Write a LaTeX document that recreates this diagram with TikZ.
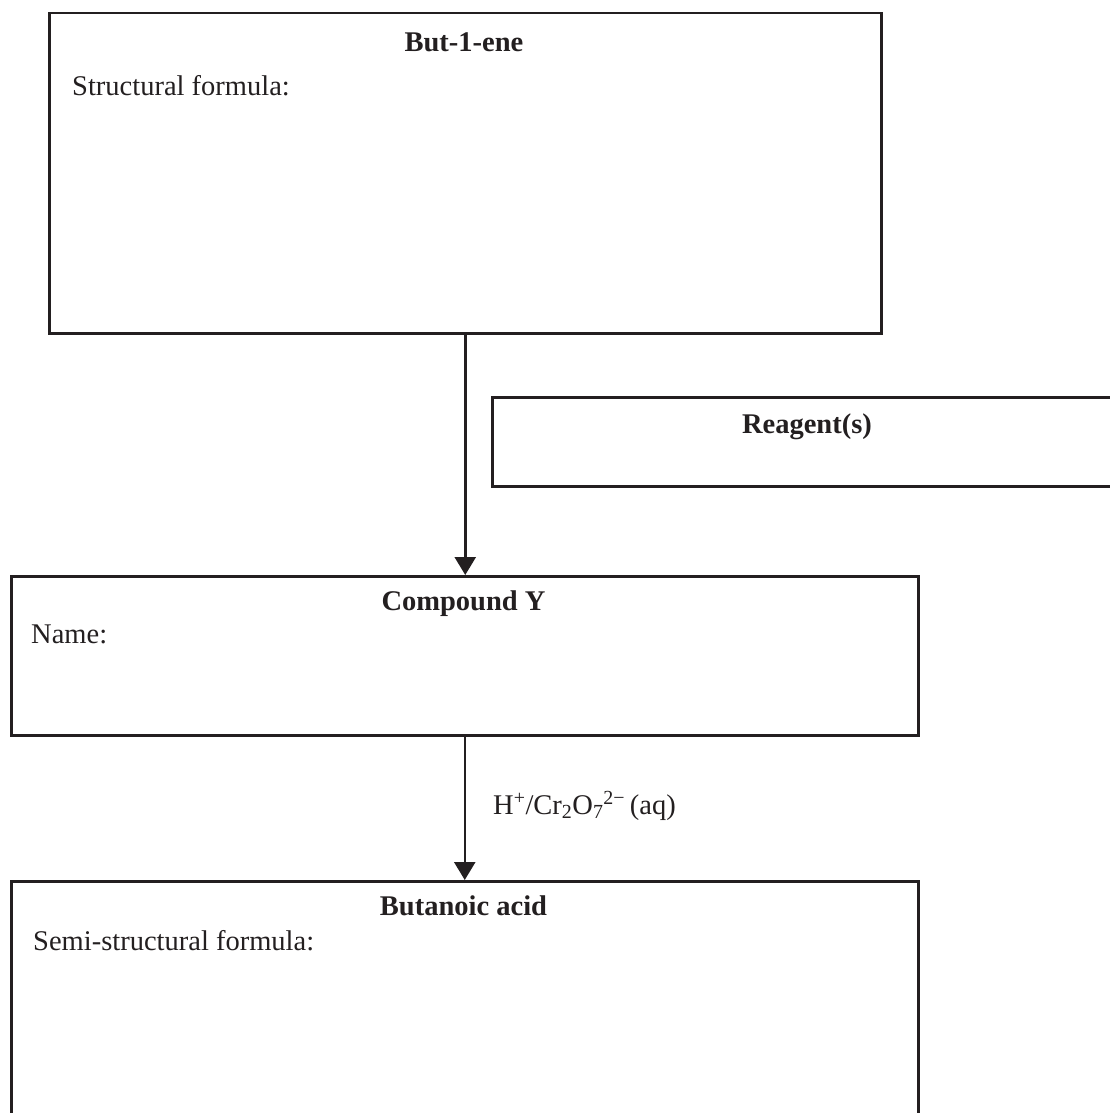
\documentclass[tikz,border=0pt]{standalone}
\usepackage{fontspec}
\setmainfont{Liberation Serif}
\usetikzlibrary{arrows.meta}
\definecolor{ink}{HTML}{231F20}
\begin{document}
\begin{tikzpicture}[x=1pt,y=-1pt,
  box/.style={draw=ink, line width=2.5pt, rectangle, inner sep=0pt, anchor=north west},
  title/.style={font=\fontsize{28.5}{34}\selectfont\bfseries, text=ink, anchor=base, inner sep=0pt},
  txt/.style={font=\fontsize{28.5}{34}\selectfont, text=ink, anchor=base west, inner sep=0pt},
  flow/.style={draw=ink, line width=2.5pt, -{Triangle[width=21pt,length=18pt]}}]
\useasboundingbox (0,0) rectangle (1110,1113);
\clip (0,0) rectangle (1110,1113);
\fill[white] (0,0) rectangle (1110,1113);
% boxes
\node[box, minimum width=832pt, minimum height=320pt] (b1) at (48,12) {};
\node[box, minimum width=632pt, minimum height=89pt] (rg) at (491,396) {};
\node[box, minimum width=907pt, minimum height=159pt] (cy) at (10,575) {};
\node[box, minimum width=907pt, minimum height=260pt] (ba) at (10,880) {};
% texts
\node[title] (t1) at (464,52) {But-1-ene};
\node[txt] (s1) at (72,96) {Structural formula:};
\node[title] (t2) at (807,433) {Reagent(s)};
\node[title] (t3) at (463.5,610) {Compound Y};
\node[txt] (s3) at (31,643) {Name:};
\node[txt] (lab) at (493,814) {H\textsuperscript{+}/Cr\textsubscript{2}O\textsubscript{7}\textsuperscript{2\char"2212}\,(aq)};
\node[title] (t4) at (463.5,915) {Butanoic acid};
\node[txt] (s4) at (33,950) {Semi-structural formula:};
% arrows
\draw[flow] (b1.south) -- (b1.south |- cy.north);
\draw[flow] (cy.south) -- (ba.north);
\end{tikzpicture}
\end{document}
